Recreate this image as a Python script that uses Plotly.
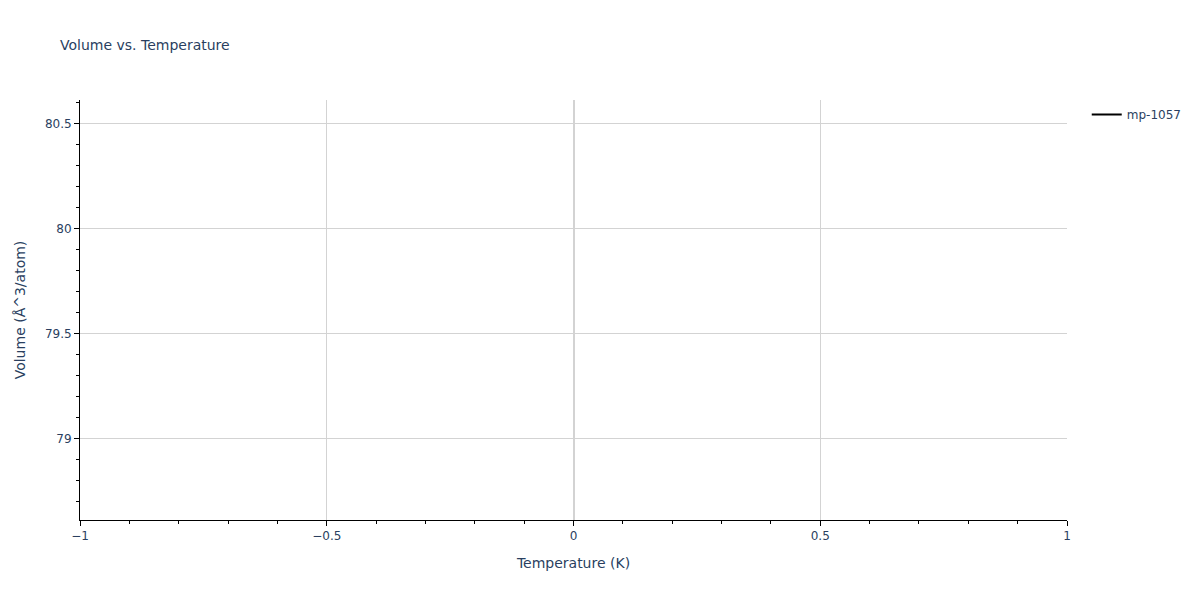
import plotly.graph_objects as go

# single data point for mp-1057
temperature = [0]
volume = [79.612]
material = "mp-1057"

fig = go.Figure()
fig.add_trace(go.Scatter(x=temperature, y=volume, mode="lines", name=material,
                         line=dict(color="black", width=2), showlegend=True))

axis_style = dict(
    showline=True, linecolor="black", linewidth=1,
    showgrid=True, gridcolor="lightgray",
    zeroline=True, zerolinecolor="lightgray", zerolinewidth=2,
    ticks="outside", tickcolor="black",
    minor=dict(ticks="outside", tickcolor="black", showgrid=False),
)

# page body adds ~8px offset, so margins are shifted to compensate
fig.update_layout(
    template="plotly_white",
    width=1200, height=600,
    margin=dict(l=72, r=141, t=92, b=88),
    font=dict(family="DejaVu Sans"),
    title=dict(text="Volume vs. Temperature", font=dict(size=14),
               x=52 / 1200, y=1 - 37 / 600, yanchor="middle"),
    xaxis_title="Temperature (K)",
    yaxis_title="Volume (Å^3/atom)",
    legend=dict(x=1.02, y=1),
)
fig.update_xaxes(**axis_style)
fig.update_yaxes(**axis_style)

fig.write_html("out.html")
